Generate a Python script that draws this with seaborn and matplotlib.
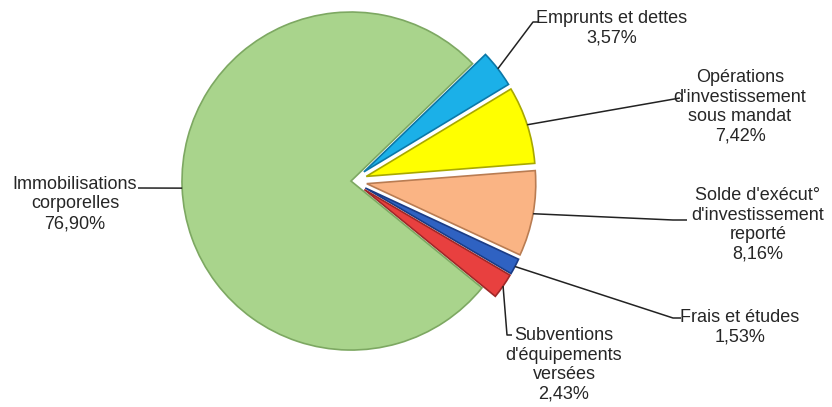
import numpy as np
import matplotlib
matplotlib.use("Agg")
import matplotlib.pyplot as plt
import seaborn as sns

# Data (clockwise from the top right)
labels = ["Emprunts et dettes", "Opérations\nd'investissement\nsous mandat",
          "Solde d'exécut°\nd'investissement\nreporté", "Frais et études",
          "Subventions\nd'équipements\nversées", "Immobilisations\ncorporelles"]
values = [3.57, 7.42, 8.16, 1.53, 2.43, 76.90]
pct_text = ["3,57%", "7,42%", "8,16%", "1,53%", "2,43%", "76,90%"]
colors = ["#1BB0E8", "#FFFF00", "#FAB484", "#2F62C2", "#E8403F", "#A9D48C"]
edges = ["#0B78A8", "#A8A800", "#B97C52", "#1B3C85", "#A02828", "#7DA862"]

sns.set_theme(style="white")
plt.rcParams['font.family'] = ['Liberation Sans', 'DejaVu Sans']

W, H = 832, 407
fig = plt.figure(figsize=(W / 100, H / 100), dpi=100)
ax = fig.add_axes([0, 0, 1, 1])

cx, cy, rad = 352, H - 181, 169
# explode offsets in pixels (pie uses data units)
explode = [15, 15, 15, 15, 15, 1]
wedges, _ = ax.pie(values, colors=colors, explode=explode, startangle=44,
                   counterclock=False, center=(cx, cy), radius=rad,
                   wedgeprops=dict(linewidth=1.2), frame=True)
for w, ec in zip(wedges, edges):
    w.set_edgecolor(ec)
ax.set_xlim(0, W)
ax.set_ylim(0, H)
ax.set_aspect('equal')
ax.axis('off')

# label layout (image pixel coords): text centre, leader path after anchor
text_pos = [(612, 28), (740, 107), (758, 225), (740, 327), (564, 365), (75, 204)]
leader = [[(533, 22), (538, 22)],
          [(680, 98)],
          [(673, 220), (687, 220)],
          [(673, 318), (681, 318)],
          [(507, 335), (512, 335)],
          [(138, 188)]]

for w, lab, pct, (tx, ty), path in zip(wedges, labels, pct_text, text_pos, leader):
    mid = np.deg2rad((w.theta1 + w.theta2) / 2)
    ax0 = w.center[0] + w.r * np.cos(mid)
    ay0 = w.center[1] + w.r * np.sin(mid)
    xs = [ax0] + [p[0] for p in path]
    ys = [ay0] + [H - p[1] for p in path]
    ax.plot(xs, ys, color="#222222", lw=1.1, solid_capstyle='butt')
    ax.text(tx, H - ty, lab + "\n" + pct, ha='center', va='center',
            multialignment='center', fontsize=13, linespacing=1.2,
            color="#262626")

fig.savefig("out.png", dpi=100)
